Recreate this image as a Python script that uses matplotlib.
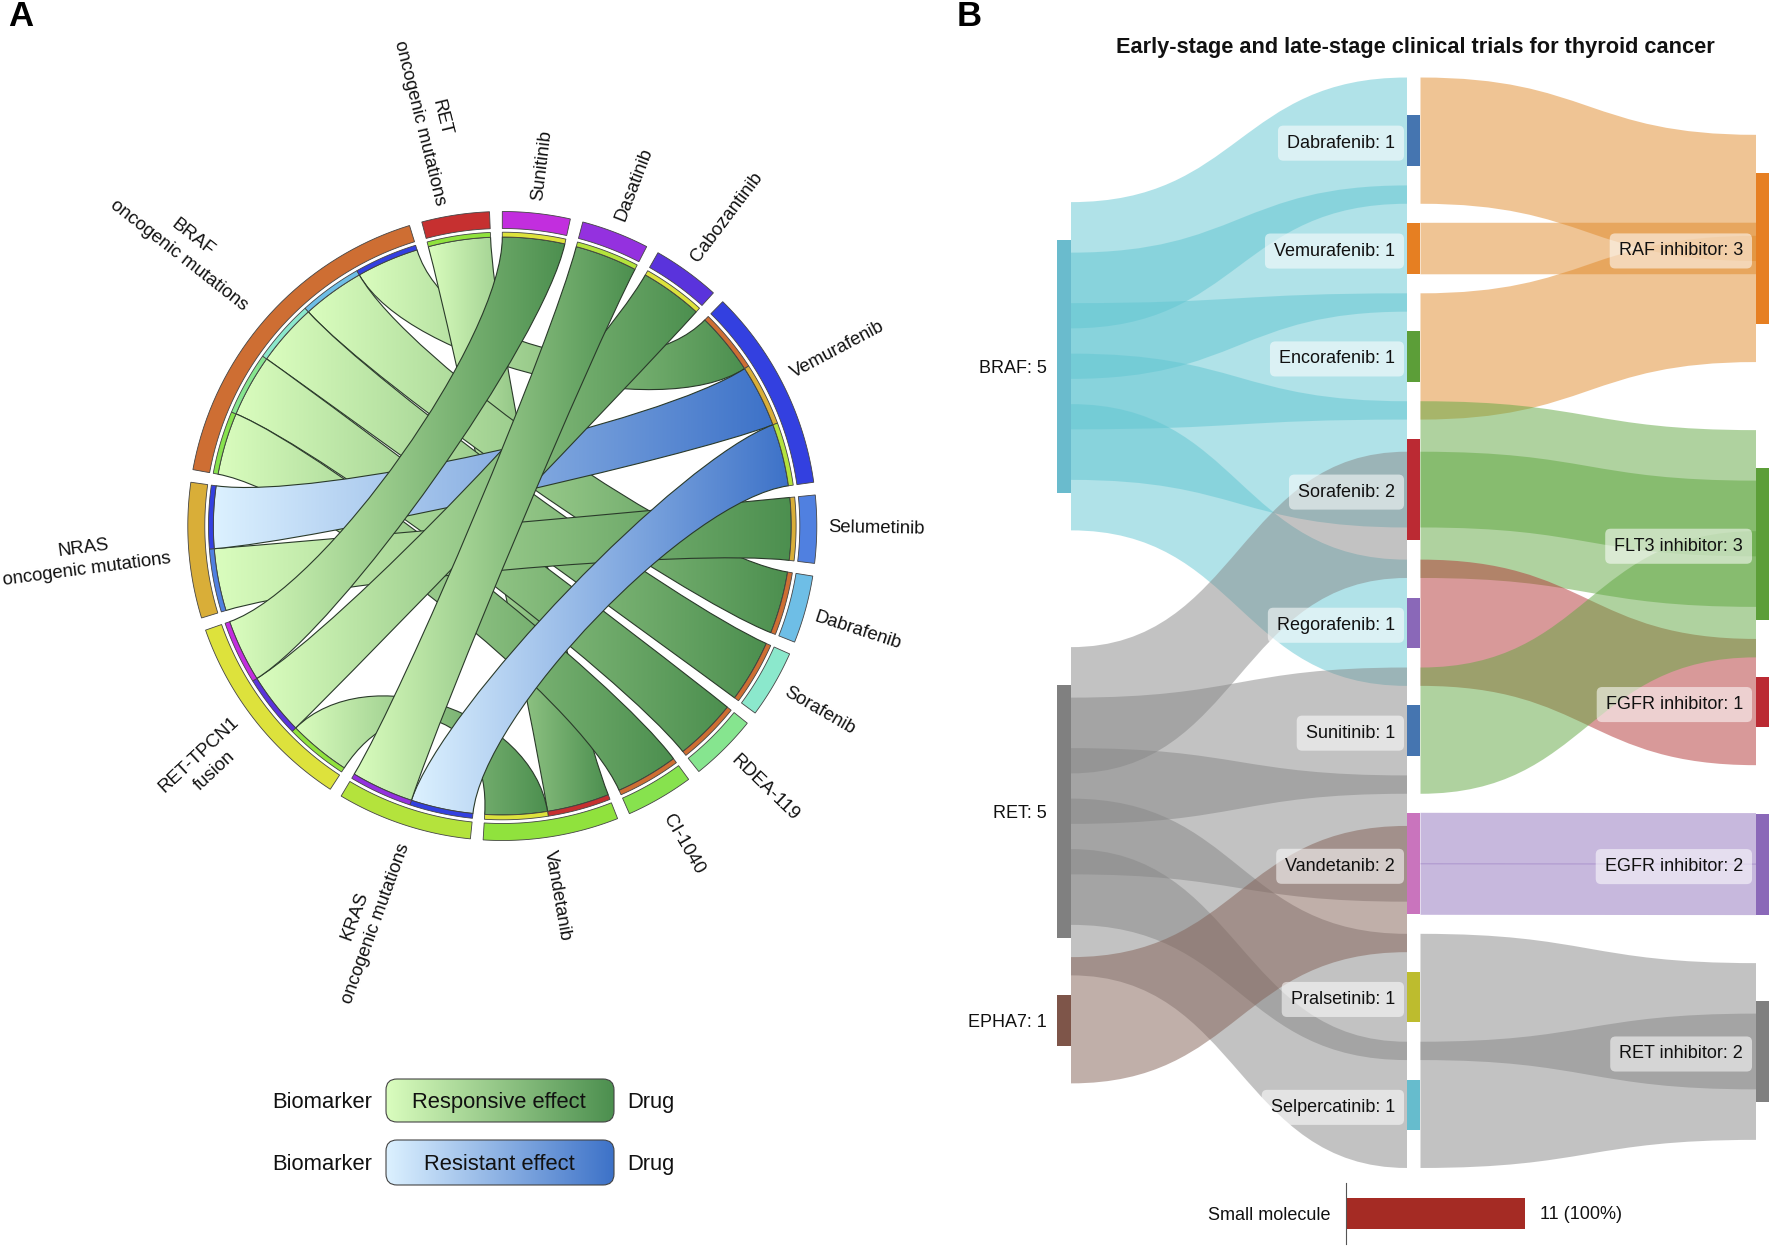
import numpy as np
import matplotlib
matplotlib.use("Agg")
import matplotlib.pyplot as plt
from matplotlib.colors import LinearSegmentedColormap
from matplotlib.patches import FancyBboxPatch, PathPatch, Polygon, Rectangle
from matplotlib.path import Path

plt.rcParams['font.family'] = ['Liberation Sans', 'DejaVu Sans']

# panel A data, sectors run clockwise from the top
sector_names = ['Sunitinib', 'Dasatinib', 'Cabozantinib', 'Vemurafenib', 'Selumetinib',
                'Dabrafenib', 'Sorafenib', 'RDEA-119', 'CI-1040', 'Vandetanib',
                'KRAS', 'RET-TPCN1', 'NRAS', 'BRAF', 'RET']
sector_labels = ['Sunitinib', 'Dasatinib', 'Cabozantinib', 'Vemurafenib', 'Selumetinib',
                 'Dabrafenib', 'Sorafenib', 'RDEA-119', 'CI-1040', 'Vandetanib',
                 'KRAS\noncogenic mutations', 'RET-TPCN1\nfusion',
                 'NRAS\noncogenic mutations', 'BRAF\noncogenic mutations',
                 'RET\noncogenic mutations']
sector_colors = ['#C22EDE', '#9431DF', '#5A33DC', '#3340E0', '#5080E0',
                 '#6EBEE6', '#8BE8CC', '#86E58F', '#87E24E', '#90E23D',
                 '#B4E33C', '#DDE23C', '#D9AE38', '#CE6E33', '#C63030']
# partners of each sector, clockwise
sector_slots = [['RET-TPCN1'], ['KRAS'], ['RET-TPCN1'], ['BRAF', 'NRAS', 'KRAS'], ['NRAS'],
                ['BRAF'], ['BRAF'], ['BRAF'], ['BRAF'], ['RET', 'RET-TPCN1'],
                ['Vemurafenib', 'Dasatinib'], ['Vandetanib', 'Cabozantinib', 'Sunitinib'],
                ['Selumetinib', 'Vemurafenib'],
                ['CI-1040', 'RDEA-119', 'Sorafenib', 'Dabrafenib', 'Vemurafenib'],
                ['Vandetanib']]
# biomarker, drug, effect in drawing order
chord_bio = ['BRAF', 'RET', 'BRAF', 'BRAF', 'BRAF', 'BRAF', 'NRAS', 'RET-TPCN1',
             'NRAS', 'KRAS', 'RET-TPCN1', 'RET-TPCN1', 'KRAS']
chord_drug = ['Vemurafenib', 'Vandetanib', 'Dabrafenib', 'Sorafenib', 'RDEA-119', 'CI-1040',
              'Selumetinib', 'Vandetanib', 'Vemurafenib', 'Vemurafenib', 'Cabozantinib',
              'Sunitinib', 'Dasatinib']
chord_effect = ['resp', 'resp', 'resp', 'resp', 'resp', 'resp', 'resp', 'resp',
                'res', 'res', 'resp', 'resp', 'resp']

# panel B data
left_nodes = ['BRAF', 'RET', 'EPHA7']
mid_nodes = ['Dabrafenib', 'Vemurafenib', 'Encorafenib', 'Sorafenib', 'Regorafenib',
             'Sunitinib', 'Vandetanib', 'Pralsetinib', 'Selpercatinib']
right_nodes = ['RAF inhibitor', 'FLT3 inhibitor', 'FGFR inhibitor', 'EGFR inhibitor', 'RET inhibitor']
left_colors = ['#6ABBCD', '#808080', '#7E5549']
mid_colors = ['#4575B0', '#E67F22', '#5C9E38', '#BB2A33', '#8A68B8',
              '#4575B0', '#C974BD', '#BDBC2E', '#66BCCD']
right_colors = ['#E67F22', '#5C9E38', '#BB2A33', '#8A68B8', '#808080']
flow_colors = {'BRAF': '#62C6D2', 'RET': '#878787', 'EPHA7': '#836055',
               'RAF inhibitor': '#E18A2A', 'FLT3 inhibitor': '#61A741',
               'FGFR inhibitor': '#B33535', 'EGFR inhibitor': '#9172BD',
               'RET inhibitor': '#878787'}
flow_a_src = ['BRAF'] * 5 + ['RET'] * 5 + ['EPHA7']
flow_a_dst = ['Dabrafenib', 'Vemurafenib', 'Encorafenib', 'Sorafenib', 'Regorafenib',
              'Sorafenib', 'Sunitinib', 'Vandetanib', 'Pralsetinib', 'Selpercatinib', 'Vandetanib']
flow_b_src = ['Dabrafenib', 'Vemurafenib', 'Encorafenib', 'Sorafenib', 'Sorafenib',
              'Regorafenib', 'Sunitinib', 'Vandetanib', 'Vandetanib', 'Pralsetinib', 'Selpercatinib']
flow_b_dst = ['RAF inhibitor', 'RAF inhibitor', 'RAF inhibitor', 'FLT3 inhibitor', 'FLT3 inhibitor',
              'FGFR inhibitor', 'FLT3 inhibitor', 'EGFR inhibitor', 'EGFR inhibitor',
              'RET inhibitor', 'RET inhibitor']
bar_name = 'Small molecule'
bar_value = 11
bar_text = '11 (100%)'

W, H = 1772, 1247
fig = plt.figure(figsize=(W / 100, H / 100), dpi=100)
ax = fig.add_axes([0, 0, 1, 1])
FS = 13

# ---- panel A ----
cx, cy = 502.3, 526
r_link, r_track, r_in, r_out = 289, 293.8, 297.5, 314.5
gap = 2.33
unit = (360 - gap * len(sector_names)) / sum(len(s) for s in sector_slots)
label_rot = [83, 69, 53, 28, -1, -18, -30, -44, -60, -80, 70, 43, 7.5, -38, -76]
label_dx = [0, 0, 0, -3, -1, -3, 0, 0, 0, -4, -5, 0, -7, -5, -2]
label_dy = [0, 0, 0, -5, -2, 4, 0, 0, 6, 1, 3, 0, -4, -10, 0]


def polar(r, deg):
    t = np.radians(deg)
    return np.array([cx + r * np.sin(t), cy - r * np.cos(t)])


def ring(r0, r1, a0, a1, color):
    a = np.linspace(a0, a1, 40)
    pts = [polar(r1, d) for d in a] + [polar(r0, d) for d in a[::-1]]
    ax.add_patch(Polygon(pts, closed=True, fc=color, ec='#444444', lw=0.6, zorder=5))


slots = {}
colors = dict(zip(sector_names, sector_colors))
pos = 0
for k, (name, label, partners) in enumerate(zip(sector_names, sector_labels, sector_slots)):
    a0 = pos
    a1 = pos + unit * len(partners)
    ring(r_in, r_out, a0, a1, colors[name])
    for i, p in enumerate(partners):
        s0, s1 = a0 + i * unit, a0 + (i + 1) * unit
        slots[(name, p)] = (s0, s1)
        ring(r_link, r_track, s0, s1, colors[p])
    mid = (a0 + a1) / 2
    x, y = polar(r_out + 13, mid)
    ax.text(x + label_dx[k], y + label_dy[k], label, rotation=label_rot[k], rotation_mode='anchor',
            fontsize=13.3, multialignment='center', linespacing=1.4,
            ha='left' if mid < 180 else 'right', va='center', color='#111111')
    pos = a1 + gap

cmaps = {'resp': LinearSegmentedColormap.from_list('resp', ['#DAFDBE', '#4C8F4F']),
         'res': LinearSegmentedColormap.from_list('res', ['#DCF1FF', '#3D72C8'])}


def ribbon_path(a0, a1, b0, b1):
    verts, codes = [], []
    c = np.array([cx, cy])

    def arc(d0, d1, first=False):
        for k, d in enumerate(np.linspace(d0, d1, 25)):
            verts.append(polar(r_link, d))
            codes.append(Path.MOVETO if first and k == 0 else Path.LINETO)

    def bend(d0, d1):
        p, q = polar(r_link, d0), polar(r_link, d1)
        verts.extend([c + (p - c) * 0.65, c + (q - c) * 0.65, q])
        codes.extend([Path.CURVE4, Path.CURVE4, Path.CURVE4])

    arc(a0, a1, True)
    bend(a1, b0)
    arc(b0, b1)
    bend(b1, a0)
    verts.append(verts[0])
    codes.append(Path.CLOSEPOLY)
    return Path(np.array(verts), codes)


gradient = np.linspace(0, 1, 256).reshape(1, -1)
for i, (bio, drug, eff) in enumerate(zip(chord_bio, chord_drug, chord_effect)):
    a0, a1 = slots[(bio, drug)]
    b0, b1 = slots[(drug, bio)]
    path = ribbon_path(a0, a1, b0, b1)
    box = path.get_extents()
    z = 2 + i * 0.01
    im = ax.imshow(gradient, cmap=cmaps[eff], aspect='auto', zorder=z, interpolation='bilinear',
                   extent=(box.x0, box.x1, box.y1, box.y0))
    edge = PathPatch(path, fc='none', ec='#2A3A2A', lw=0.8, zorder=z + 0.001)
    ax.add_patch(edge)
    im.set_clip_path(edge)

# legend of panel A
legend_rows = [('Responsive effect', 'resp', 1079, 1122), ('Resistant effect', 'res', 1140, 1185)]
for text, eff, y0, y1 in legend_rows:
    im = ax.imshow(gradient, cmap=cmaps[eff], aspect='auto', zorder=2, interpolation='bilinear',
                   extent=(386, 614, y1, y0))
    box = FancyBboxPatch((386 + 11, y0 + 11), 228 - 22, y1 - y0 - 22, boxstyle='round,pad=11',
                         fc='none', ec='#444444', lw=0.8, zorder=3)
    ax.add_patch(box)
    im.set_clip_path(box)
    ymid = (y0 + y1) / 2
    ax.text(499, ymid + 2, text, fontsize=15.8, ha='center', va='center', zorder=4, color='#111111')
    ax.text(372, ymid + 2, 'Biomarker', fontsize=15.8, ha='right', va='center', color='#111111')
    ax.text(627, ymid + 2, 'Drug', fontsize=15.8, ha='left', va='center', color='#111111')

ax.text(8, 17, 'A', fontsize=25, fontweight='bold', ha='left', va='center')
ax.text(957, 17, 'B', fontsize=25, fontweight='bold', ha='left', va='center')

# ---- panel B ----
node_w = 13.5
xl, xm, xr = 1057.5, 1407, 1756
s_unit = 50.5
spread = 2.5  # curved flows come out wider than the node slot
ax.text(1415, 47.5, 'Early-stage and late-stage clinical trials for thyroid cancer',
        fontsize=15.7, fontweight='bold', ha='center', va='center', color='#111111')


def totals(names, src):
    return [src.count(n) for n in names]


left_vals = totals(left_nodes, flow_a_src)
mid_vals = totals(mid_nodes, flow_a_dst)
right_vals = totals(right_nodes, flow_b_dst)

left_tops = [240, 685, 995]
right_tops = [172.7, 468, 676.8, 813.6, 1001]
mid_tops = []
t = 115.4
for v in mid_vals:
    mid_tops.append(t)
    t += v * s_unit + 57.4

tops = dict(zip(left_nodes + mid_nodes + right_nodes, left_tops + mid_tops + right_tops))
node_colors = dict(zip(left_nodes + mid_nodes + right_nodes, left_colors + mid_colors + right_colors))


def draw_flows(srcs, dsts, x0, x1, color_keys):
    used_out, used_in = {}, {}
    for s, d, key in zip(srcs, dsts, color_keys):
        i = used_out.get(s, 0)
        j = used_in.get(d, 0)
        used_out[s] = i + 1
        used_in[d] = j + 1
        y0 = tops[s] + (i + 0.5) * s_unit
        y1 = tops[d] + (j + 0.5) * s_unit
        half = (s_unit + 1) / 2 if abs(y0 - y1) < 1 else spread * s_unit / 2
        xc = (x0 + x1) / 2
        verts = [(x0, y0 - half), (xc, y0 - half), (xc, y1 - half), (x1, y1 - half),
                 (x1, y1 + half), (xc, y1 + half), (xc, y0 + half), (x0, y0 + half), (x0, y0 - half)]
        codes = [Path.MOVETO, Path.CURVE4, Path.CURVE4, Path.CURVE4, Path.LINETO,
                 Path.CURVE4, Path.CURVE4, Path.CURVE4, Path.CLOSEPOLY]
        ax.add_patch(PathPatch(Path(verts, codes), fc=flow_colors[key], ec='none', alpha=0.5, zorder=2))


draw_flows(flow_a_src, flow_a_dst, xl + node_w, xm, flow_a_src)
draw_flows(flow_b_src, flow_b_dst, xm + node_w, xr, flow_b_dst)

box_style = dict(boxstyle='round,pad=0.5,rounding_size=0.3', fc='white', ec='none', alpha=0.55)
for names, vals, x in [(left_nodes, left_vals, xl), (mid_nodes, mid_vals, xm), (right_nodes, right_vals, xr)]:
    for n, v in zip(names, vals):
        ax.add_patch(Rectangle((x, tops[n]), node_w, v * s_unit, fc=node_colors[n], ec='none', zorder=3))
        yc = tops[n] + v * s_unit / 2 + 2.5
        label = f'{n}: {v}'
        if x == xl:
            ax.text(xl - 11, yc, label, fontsize=FS, ha='right', va='center', zorder=6, color='#111111')
        elif x == xm:
            ax.text(xm - 12, yc, label, fontsize=FS, ha='right', va='center', zorder=6,
                    color='#111111', bbox=box_style)
        else:
            ax.text(xr - 13, yc, label, fontsize=FS, ha='right', va='center', zorder=6,
                    color='#111111', bbox=box_style)

ax.set_xlim(0, W)
ax.set_ylim(H, 0)
ax.axis('off')

# small bar below the sankey
bar_ax = fig.add_axes([1346 / W, 1 - 1244 / H, 228 / W, 61 / H])
bar_ax.barh([bar_name], [bar_value], height=0.52, color='#A52B24')
bar_ax.set_xlim(0, 14)
bar_ax.set_ylim(-0.5, 0.5)
bar_ax.xaxis.set_visible(False)
for side in ['top', 'right', 'bottom']:
    bar_ax.spines[side].set_visible(False)
bar_ax.spines['left'].set_color('#555555')
bar_ax.tick_params(axis='y', length=0, pad=11, labelsize=FS, labelcolor='#111111')
bar_ax.patch.set_alpha(0)
bar_ax.text(bar_value + 0.9, -0.02, bar_text, fontsize=FS, va='center', ha='left', color='#111111')

fig.savefig('out.png', dpi=100)
